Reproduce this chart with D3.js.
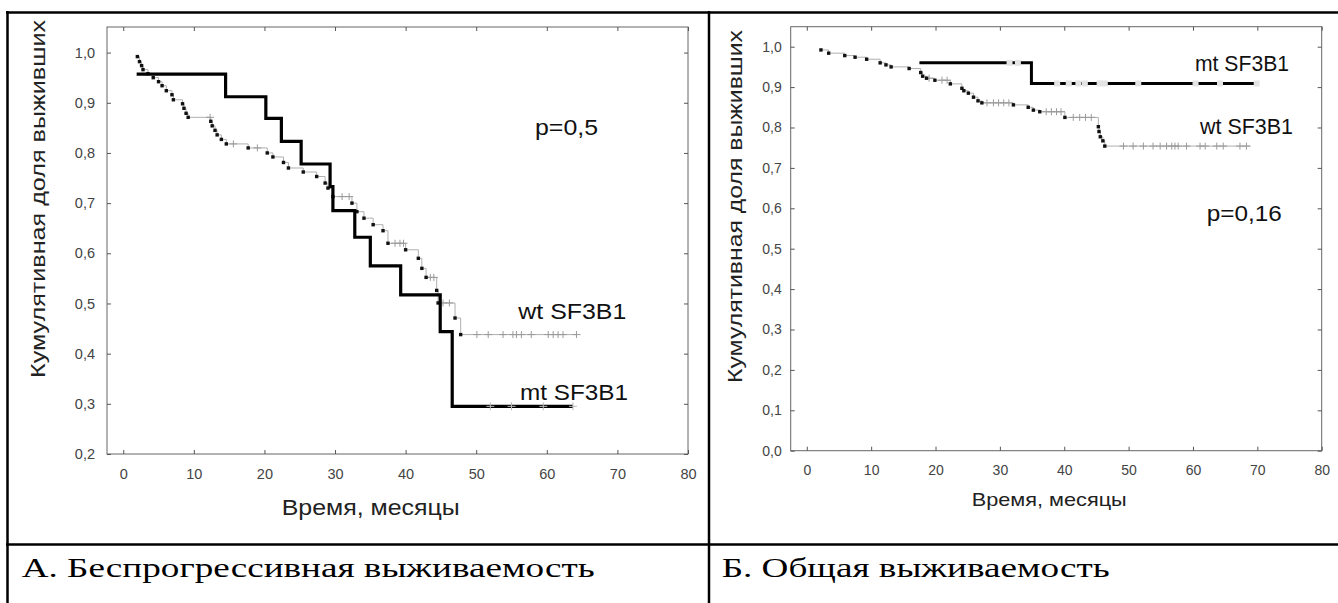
<!DOCTYPE html>
<html><head><meta charset="utf-8">
<script src="https://cdn.jsdelivr.net/npm/d3@7"></script>
<style>
html,body{margin:0;padding:0;background:#fff;}
svg{display:block;font-family:"Liberation Sans",Arial,sans-serif;}
</style></head><body>
<svg id="c" width="1338" height="603"></svg>
<script>
// ---------- data ----------
const xTickVals = [0, 10, 20, 30, 40, 50, 60, 70, 80];
const pfsYTicks = [0.2, 0.3, 0.4, 0.5, 0.6, 0.7, 0.8, 0.9, 1.0];
const osYTicks  = [0.0, 0.1, 0.2, 0.3, 0.4, 0.5, 0.6, 0.7, 0.8, 0.9, 1.0];

// A. progression-free survival
const pfsMtTime = [1.9, 14.5, 20.2, 22.4, 25.2, 29.3, 29.7, 32.8, 35.0, 39.3, 44.9, 46.6, 63.7];
const pfsMtSurv = [0.957, 0.912, 0.869, 0.823, 0.778, 0.733, 0.685, 0.632, 0.575, 0.517, 0.444, 0.295, 0.295];
const pfsMtCens = [52, 55, 59.5, 63.7];

const pfsWtTime = [2.0,2.3,2.6,2.8,3.5,4.25,5.0,5.5,6.1,6.9,7.1,8.4,8.6,8.9,9.2,12.4,12.6,13.0,13.3,13.9,14.6,17.7,20.4,21.2,22.7,23.4,25.5,27.4,28.6,29.0,29.7,32.4,33.1,34.1,35.4,36.8,37.5,40.0,41.8,42.3,42.9,44.4,44.6,47.0,47.8,64.3];
const pfsWtSurv = [0.992,0.982,0.974,0.966,0.958,0.950,0.942,0.934,0.924,0.916,0.906,0.898,0.889,0.879,0.871,0.863,0.854,0.845,0.836,0.827,0.818,0.810,0.800,0.792,0.781,0.770,0.762,0.753,0.740,0.730,0.713,0.700,0.683,0.670,0.657,0.645,0.620,0.607,0.590,0.570,0.552,0.526,0.501,0.471,0.438,0.438];
const pfsWtCens = [12.3,15.6,19.0,31.0,32.0,38.5,39.2,39.7,43.5,44.0,45.3,46.2,50.1,51.7,53.8,55.2,55.7,56.4,57.8,60.2,60.9,61.6,62.3,64.2];

// Б. overall survival
const osMtTime = [17.5, 34.9, 69.9];
const osMtSurv = [0.960, 0.909, 0.909];
const osMtCens = [31.5, 32.8, 38.9, 40.7, 42.2, 43.2, 45.5, 46.3, 51.5, 60.4, 64.2, 69.9];

const osWtTime = [2.2,3.4,5.9,7.5,9.3,11.4,12.3,13.1,15.9,17.7,18.0,18.6,19.9,22.3,24.1,24.4,25.1,25.9,26.6,27.2,32.1,34.4,35.2,36.2,40.1,45.3,45.4,45.6,46.0,46.3,68.9];
const osWtSurv = [0.992,0.984,0.978,0.974,0.969,0.960,0.955,0.950,0.946,0.936,0.927,0.922,0.917,0.908,0.897,0.891,0.885,0.875,0.866,0.861,0.856,0.850,0.843,0.839,0.825,0.802,0.790,0.777,0.767,0.754,0.754];
const osWtCens = [19.0,21.0,21.8,28.0,29.0,29.8,30.6,31.4,37.2,38.0,38.8,39.5,41.4,42.4,43.3,44.2,49.2,50.7,52.3,53.8,54.9,55.9,56.7,57.2,57.7,59.0,61.1,61.9,63.7,64.7,67.3,68.3];

const yTitle = "Кумулятивная доля выживших";
const xTitle = "Время, месяцы";
const captions = ["А. Беспрогрессивная выживаемость", "Б. Общая выживаемость"];

// ---------- drawing ----------
const svg = d3.select("#c");
const fmt = v => d3.format(".1f")(v).replace(".", ",");
const zip = (a, b) => a.map((v, i) => [v, b[i]]);
const stepVal = (ts, ss, t) => { let s = ss[0]; ts.forEach((tt, i) => { if (tt <= t) s = ss[i]; }); return s; };

function txt(x, y, s, fs, len, opts = {}) {
  const t = svg.append("text").attr("x", x).attr("y", y).text(s)
    .style("font-size", fs + "px").attr("fill", opts.fill || "#111");
  if (opts.family) t.style("font-family", opts.family);
  if (len) t.attr("textLength", len).attr("lengthAdjust", "spacingAndGlyphs");
  if (opts.anchor) t.attr("text-anchor", opts.anchor);
  if (opts.rot) t.attr("transform", `rotate(-90,${x},${y})`);
  return t;
}

function panel(c) {
  const g = svg.append("g");
  const x = d3.scaleLinear().domain(c.xd).range([c.x0, c.x1]);
  const y = d3.scaleLinear().domain(c.yd).range([c.y1, c.y0]);
  g.append("rect").attr("x", c.x0).attr("y", c.y0).attr("width", c.x1 - c.x0).attr("height", c.y1 - c.y0)
    .attr("fill", "none").attr("stroke", "#666").attr("stroke-width", 1);
  const ax = (axis, tx, ty, labels) => {
    const a = g.append("g").attr("transform", `translate(${tx},${ty})`).call(axis);
    a.select(".domain").remove();
    a.selectAll("line").attr("stroke", "#555");
    if (labels) a.selectAll("text").attr("fill", "#444").style("font-size", c.tfs + "px")
      .style("font-family", '"Liberation Sans",Arial,sans-serif');
    else a.selectAll("text").remove();
  };
  ax(d3.axisBottom(x).tickValues(xTickVals).tickSize(-4).tickPadding(c.xpad).tickFormat(d3.format("d")), 0, c.y1, true);
  ax(d3.axisTop(x).tickValues(xTickVals).tickSize(-4), 0, c.y0, false);
  ax(d3.axisLeft(y).tickValues(c.yt).tickSize(-4).tickPadding(c.ypad).tickFormat(fmt), c.x0, 0, true);
  ax(d3.axisRight(y).tickValues(c.yt).tickSize(-4), c.x1, 0, false);

  const line = d3.line().curve(d3.curveStepAfter).x(d => x(d[0])).y(d => y(d[1]));

  // wt curve
  const wt = zip(c.wtT, c.wtS);
  g.append("path").attr("d", line(wt)).attr("fill", "none").attr("stroke", "#b0b0b0").attr("stroke-width", 1);
  g.selectAll(".wc").data(c.wtC).join("path").attr("class", "wc")
    .attr("transform", d => `translate(${x(d)},${y(stepVal(c.wtT, c.wtS, d))})`)
    .attr("d", "M-4,0H4M0,-3.5V3.5").attr("stroke", "#9a9a9a").attr("stroke-width", 1);
  g.selectAll(".wd").data(wt.slice(0, -1)).join("rect").attr("class", "wd")
    .attr("x", d => x(d[0]) - 1.7).attr("y", d => y(d[1]) - 1.7).attr("width", 3.4).attr("height", 3.4).attr("fill", "#111");

  // mt curve
  const mt = zip(c.mtT, c.mtS);
  g.append("path").attr("d", line(mt)).attr("fill", "none").attr("stroke", "#000").attr("stroke-width", c.mtW);
  if (c.gap) {
    g.selectAll(".mg").data(c.mtC).join("rect").attr("class", "mg")
      .attr("x", d => x(d) - 3).attr("y", d => y(stepVal(c.mtT, c.mtS, d)) - 3).attr("width", 6).attr("height", 6)
      .attr("fill", "#e4e4e4");
  } else {
    g.selectAll(".mc").data(c.mtC).join("path").attr("class", "mc")
      .attr("transform", d => `translate(${x(d)},${y(stepVal(c.mtT, c.mtS, d))})`)
      .attr("d", "M-4,0H4M0,-4V4").attr("stroke", "#bbb").attr("stroke-width", 1);
  }
}

panel({ x0: 107, x1: 688, y0: 27, y1: 454, xd: [-2.3, 80], yd: [0.2, 1.051], yt: pfsYTicks,
  xpad: 15, ypad: 12, tfs: 14.5, mtW: 3.2,
  mtT: pfsMtTime, mtS: pfsMtSurv, mtC: pfsMtCens, wtT: pfsWtTime, wtS: pfsWtSurv, wtC: pfsWtCens, gap: false });

panel({ x0: 790.7, x1: 1321.7, y0: 26.7, y1: 450.7, xd: [-2.5, 80], yd: [0, 1.0495], yt: osYTicks,
  xpad: 14, ypad: 9, tfs: 14, mtW: 3,
  mtT: osMtTime, mtS: osMtSurv, mtC: osMtCens, wtT: osWtTime, wtS: osWtSurv, wtC: osWtCens, gap: true });

// panel texts
txt(45, 199, yTitle, 19.5, 358, { rot: true, anchor: "middle", fill: "#222" });
txt(281.7, 514.5, xTitle, 22, 178, { fill: "#222" });
txt(535, 135, "p=0,5", 22, 63);
txt(518.3, 318.5, "wt SF3B1", 22, 108);
txt(520, 399.5, "mt SF3B1", 22, 108);

txt(742, 206.5, yTitle, 19.5, 353, { rot: true, anchor: "middle", fill: "#222" });
txt(971.7, 506, xTitle, 19, 155, { fill: "#222" });
txt(1195, 71, "mt SF3B1", 22, 94);
txt(1200, 134, "wt SF3B1", 22, 93);
txt(1206.7, 221, "p=0,16", 22, 75);

// table
const tbl = svg.append("g").attr("stroke", "#000").attr("stroke-width", 2.5);
tbl.append("line").attr("x1", 6).attr("x2", 1338).attr("y1", 12.5).attr("y2", 12.5);
tbl.append("line").attr("x1", 7.5).attr("x2", 7.5).attr("y1", 11).attr("y2", 603);
tbl.append("line").attr("x1", 709).attr("x2", 709).attr("y1", 11).attr("y2", 603);
tbl.append("line").attr("x1", 6).attr("x2", 1338).attr("y1", 544.5).attr("y2", 544.5);

const serif = '"Liberation Serif","Times New Roman",serif';
txt(21.7, 577, captions[0], 28, 573, { family: serif, fill: "#000" });
txt(721.7, 577, captions[1], 28, 388, { family: serif, fill: "#000" });
</script>
</body></html>
